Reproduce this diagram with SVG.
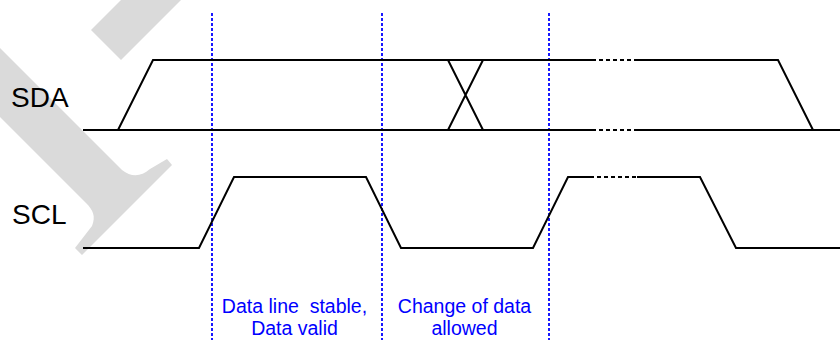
<svg xmlns="http://www.w3.org/2000/svg" width="840" height="340" viewBox="0 0 840 340">
<style>
.wm{fill:#dadada;stroke:none}
.sig{fill:none;stroke:#000;stroke-width:2;stroke-linejoin:miter}
.dot{fill:none;stroke:#000;stroke-width:2;stroke-dasharray:4 3}
.guide{fill:none;stroke:#0000ff;stroke-width:1.8;stroke-dasharray:3 2}
.lbl{font-family:"Liberation Sans",Arial,sans-serif;font-size:28px;fill:#000}
.note{font-family:"Liberation Sans",Arial,sans-serif;font-size:19.5px;fill:#0000ff;text-anchor:middle;white-space:pre}
</style>
<rect width="840" height="340" fill="#fff"/>
<g id="watermark">
<polygon class="wm" points="121,0 181,0 121,60 91,30"/>
<path class="wm" d="M0,48 L122,170 Q136,181 150,169 L167,159 L172,165 L82,255 L75,248 L92,226 C96,216 93,210 86,203 L0,117 Z"/>
</g>
<g id="connectors">
<line class="guide" x1="212" y1="13" x2="212" y2="340"/>
<line class="guide" x1="382" y1="13" x2="382" y2="340"/>
<line class="guide" x1="549" y1="13" x2="549" y2="340"/>
</g>
<g id="sda">
<text class="lbl" x="11" y="107">SDA</text>
<path class="sig" d="M83,130 L592,130 M636,130 L840,130"/>
<path class="dot" d="M592,130 L636,130"/>
<path class="sig" d="M118,130 L153,60 L592,60 M636,60 L778,60 L813,130"/>
<path class="dot" d="M592,60 L636,60"/>
<path class="sig" d="M448,60 L483,130 M483,60 L448,130"/>
</g>
<g id="scl">
<text class="lbl" x="12" y="224">SCL</text>
<path class="sig" d="M83,248 L199,248 L234,177 L366,177 L401,248 L533,248 L568,177 L590,177"/>
<path class="dot" d="M590,177 L637,177"/>
<path class="sig" d="M637,177 L700,177 L736,248 L840,248"/>
</g>
<g id="note-stable">
<text class="note" x="294.5" y="313" xml:space="preserve">Data line  stable,</text>
<text class="note" x="294.5" y="335">Data valid</text>
</g>
<g id="note-change">
<text class="note" x="464.5" y="313">Change of data</text>
<text class="note" x="464.5" y="335">allowed</text>
</g>
</svg>
